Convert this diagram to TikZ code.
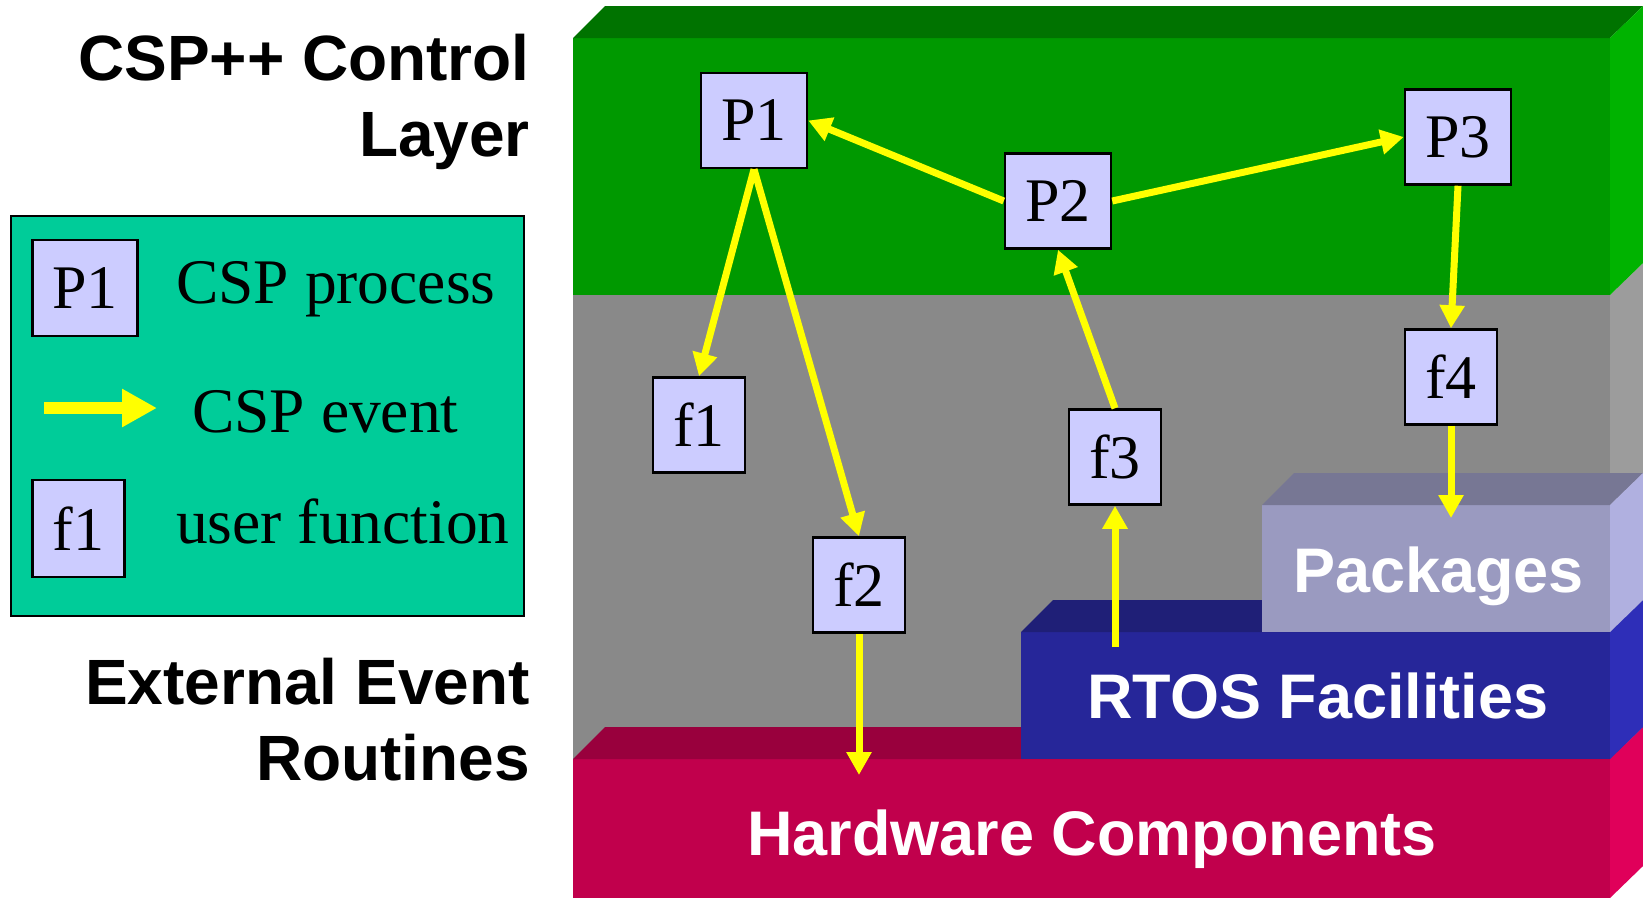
\documentclass[tikz,border=0pt]{standalone}
\usepackage{fontspec}
\setmainfont{Liberation Serif}
\setsansfont{Liberation Sans}
\usetikzlibrary{arrows.meta}

\definecolor{greenFront}{HTML}{009900}
\definecolor{greenTop}{HTML}{007300}
\definecolor{greenSide}{HTML}{00B300}
\definecolor{grayFront}{HTML}{898989}
\definecolor{graySide}{HTML}{9C9C9C}
\definecolor{pkgFront}{HTML}{9A9AC0}
\definecolor{pkgTop}{HTML}{777794}
\definecolor{pkgSide}{HTML}{B0B0E0}
\definecolor{rtosFront}{HTML}{262699}
\definecolor{rtosTop}{HTML}{1F1F77}
\definecolor{rtosSide}{HTML}{2E2EB8}
\definecolor{hwFront}{HTML}{C1004C}
\definecolor{hwTop}{HTML}{99003D}
\definecolor{hwSide}{HTML}{E0005A}
\definecolor{legendFill}{HTML}{00CC99}
\definecolor{boxFill}{HTML}{CCCCFF}
\definecolor{eventYellow}{HTML}{FFFF00}

\begin{document}
\begin{tikzpicture}[x=1pt,y=-1pt,
  fnbox/.style={draw=black, line width=2.5pt, fill=boxFill, inner sep=0pt,
    minimum width=92pt, minimum height=95pt, font=\fontsize{62}{62}\selectfont},
  procbox/.style={fnbox, minimum width=106pt},
  event/.style={draw=eventYellow, line width=7pt, -{Triangle[length=23pt,width=24pt]}},
  layertext/.style={text=white, font=\sffamily\bfseries\fontsize{63}{63}\selectfont,
    anchor=base west, inner sep=0pt},
  sidetext/.style={text=black, font=\sffamily\bfseries\fontsize{64}{64}\selectfont,
    anchor=base east, inner sep=0pt},
  legtext/.style={font=\fontsize{63.5}{63.5}\selectfont, anchor=base west, inner sep=0pt}]

\useasboundingbox (0,0) rectangle (1643,898);

% ---- middle (grey) layer
\fill[grayFront] (573,295) rectangle (1610,759);
\fill[graySide] (1610,295) -- (1643,263) -- (1643,727) -- (1610,759) -- cycle;

% ---- top (green) layer
\fill[greenFront] (573,38) rectangle (1610,295);
\fill[greenTop] (573,38) -- (605,6) -- (1643,6) -- (1610,38) -- cycle;
\fill[greenSide] (1610,38) -- (1643,6) -- (1643,263) -- (1610,295) -- cycle;

% ---- hardware layer
\fill[hwFront] (573,759) rectangle (1610,898);
\fill[hwTop] (573,759) -- (605,727) -- (1643,727) -- (1610,759) -- cycle;
\fill[hwSide] (1610,759) -- (1643,727) -- (1643,866) -- (1610,898) -- cycle;

% ---- RTOS layer
\fill[rtosFront] (1021,632) rectangle (1610,759);
\fill[rtosTop] (1021,632) -- (1053,600) -- (1643,600) -- (1610,632) -- cycle;
\fill[rtosSide] (1610,632) -- (1643,600) -- (1643,727) -- (1610,759) -- cycle;

% ---- packages layer
\fill[pkgFront] (1262,505) rectangle (1610,632);
\fill[pkgTop] (1262,505) -- (1294,473) -- (1643,473) -- (1610,505) -- cycle;
\fill[pkgSide] (1610,505) -- (1643,473) -- (1643,600) -- (1610,632) -- cycle;

% ---- layer captions
\node[layertext] (hwText) at (747,855) {Hardware Components};
\node[layertext] (rtosText) at (1087,718) {RTOS Facilities};
\node[layertext] (pkgText) at (1293,592) {Packages};

% ---- side captions
\node[sidetext] (ctlA) at (530,80) {CSP++ Control};
\node[sidetext] (ctlB) at (530,156) {Layer};
\node[sidetext] (extA) at (530,704) {External Event};
\node[sidetext] (extB) at (530,780) {Routines};

% ---- legend
\filldraw[fill=legendFill, draw=black, line width=2.5pt] (11,216) rectangle (524,616);
\node[procbox, minimum width=105pt, minimum height=96pt] (legP) at (85,288) {P1};
\node[fnbox, minimum width=92pt, minimum height=97pt] (legF) at (78.5,528.5) {f1};
\node[legtext] (legPt) at (176,303) {CSP process};
\node[legtext] (legEt) at (192,432) {CSP event};
\node[legtext] (legFt) at (176,543) {user function};
\coordinate (legA) at (44,408);
\coordinate (legB) at (157,408);
\draw[eventYellow, line width=12pt, -{Triangle[length=35pt,width=36pt]}] (legA) -- (legB);

% ---- processes and functions
\node[procbox] (P1) at (754,120.5) {P1};
\node[procbox] (P2) at (1058,201) {P2};
\node[procbox] (P3) at (1458,137) {P3};
\node[fnbox] (f1) at (699,425) {f1};
\node[fnbox] (f2) at (859,585) {f2};
\node[fnbox] (f3) at (1115,457) {f3};
\node[fnbox] (f4) at (1451,377) {f4};

\coordinate (hwIn) at (859,775);
\coordinate (rtosOut) at (1115,647);
\coordinate (pkgIn) at (1451,518);

% ---- events
\draw[event] (P2.west) -- (P1.east);
\draw[event] (P2.east) -- (P3.west);
\draw[event] (P1.south) -- (f1.north);
\draw[event] (P1.south) -- (f2.north);
\draw[event] (P3.south) -- (f4.north);
\draw[event] (f3.north) -- (P2.south);
\draw[event] (rtosOut) -- (f3.south);
\draw[event] (f4.south) -- (pkgIn);
\draw[event] (f2.south) -- (hwIn);

\end{tikzpicture}
\end{document}
